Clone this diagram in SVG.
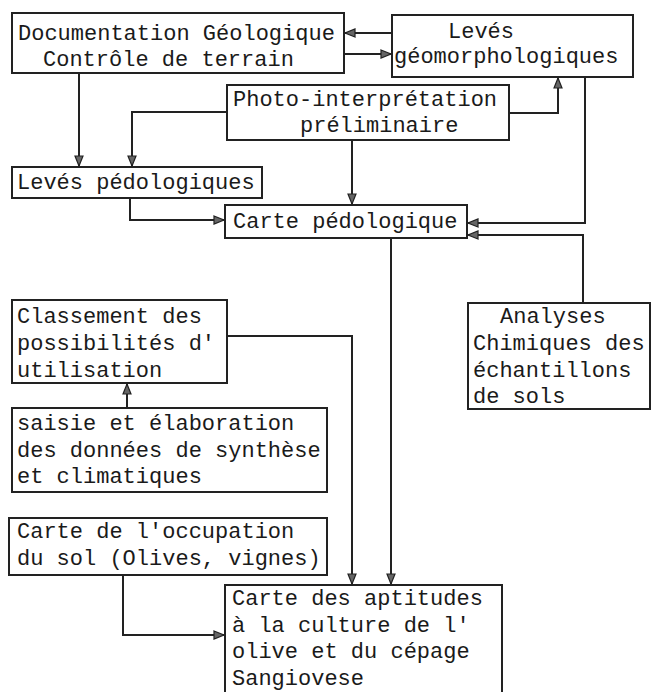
<svg xmlns="http://www.w3.org/2000/svg" width="651" height="692" viewBox="0 0 651 692">
<style>
.box{fill:#fff;stroke:#222;stroke-width:2}
.t{font-family:"Liberation Mono","DejaVu Sans Mono",monospace;font-size:22px;fill:#1a1a1a}
.c{fill:none;stroke:#222;stroke-width:2}
</style>
<defs>
<marker id="ah" markerUnits="userSpaceOnUse" markerWidth="12" markerHeight="10" refX="11" refY="5" orient="auto">
<path d="M1,1 L11,5 L1,9 z" fill="#666" stroke="#222" stroke-width="1.2"/>
</marker>
</defs>
<rect width="651" height="692" fill="#fff"/>
<g id="connectors">
<path class="c" d="M392,33 L345,33" marker-end="url(#ah)"/>
<path class="c" d="M344,54 L391,54" marker-end="url(#ah)"/>
<path class="c" d="M79,73 L79,166" marker-end="url(#ah)"/>
<path class="c" d="M227,112 L132,112 L132,166" marker-end="url(#ah)"/>
<path class="c" d="M509,113 L558,113 L558,78" marker-end="url(#ah)"/>
<path class="c" d="M352,140 L352,204" marker-end="url(#ah)"/>
<path class="c" d="M130,198 L130,220 L224,220" marker-end="url(#ah)"/>
<path class="c" d="M585,77 L585,223 L468,223" marker-end="url(#ah)"/>
<path class="c" d="M583,303 L583,235 L468,235" marker-end="url(#ah)"/>
<path class="c" d="M391,238 L391,584" marker-end="url(#ah)"/>
<path class="c" d="M227,336 L352,336 L352,584" marker-end="url(#ah)"/>
<path class="c" d="M127,408 L127,384" marker-end="url(#ah)"/>
<path class="c" d="M123,575 L123,635 L224,635" marker-end="url(#ah)"/>
</g>
<g id="doc">
<rect class="box" x="12" y="13" width="332" height="60"/>
<text class="t" x="18" y="40">Documentation Géologique</text>
<text class="t" x="43" y="66">Contrôle de terrain</text>
</g>
<g id="geomorph">
<rect class="box" x="392" y="15" width="241" height="62"/>
<text class="t" x="448" y="38">Levés</text>
<text class="t" x="394" y="63">géomorphologiques</text>
</g>
<g id="photo">
<rect class="box" x="227" y="85" width="282" height="55"/>
<text class="t" x="233" y="106">Photo-interprétation</text>
<text class="t" x="300" y="132">préliminaire</text>
</g>
<g id="levped">
<rect class="box" x="12" y="167" width="250" height="31"/>
<text class="t" x="17" y="189">Levés pédologiques</text>
</g>
<g id="carteped">
<rect class="box" x="225" y="205" width="242" height="33"/>
<text class="t" x="233" y="228">Carte pédologique</text>
</g>
<g id="classement">
<rect class="box" x="12" y="300" width="215" height="83"/>
<text class="t" x="17" y="323">Classement des</text>
<text class="t" x="17" y="350">possibilités d'</text>
<text class="t" x="17" y="377">utilisation</text>
</g>
<g id="analyses">
<rect class="box" x="468" y="303" width="182" height="106"/>
<text class="t" x="500" y="323">Analyses</text>
<text class="t" x="473" y="350">Chimiques des</text>
<text class="t" x="473" y="377">échantillons</text>
<text class="t" x="473" y="403">de sols</text>
</g>
<g id="saisie">
<rect class="box" x="12" y="408" width="315" height="84"/>
<text class="t" x="17" y="430">saisie et élaboration</text>
<text class="t" x="17" y="457">des données de synthèse</text>
<text class="t" x="17" y="483">et climatiques</text>
</g>
<g id="occupation">
<rect class="box" x="9" y="518" width="318" height="57"/>
<text class="t" x="17" y="538">Carte de l'occupation</text>
<text class="t" x="17" y="565">du sol (Olives, vignes)</text>
</g>
<g id="aptitudes">
<rect class="box" x="225" y="585" width="277" height="115"/>
<text class="t" x="232" y="605">Carte des aptitudes</text>
<text class="t" x="232" y="632">à la culture de l'</text>
<text class="t" x="232" y="658">olive et du cépage</text>
<text class="t" x="232" y="685">Sangiovese</text>
</g>
</svg>
